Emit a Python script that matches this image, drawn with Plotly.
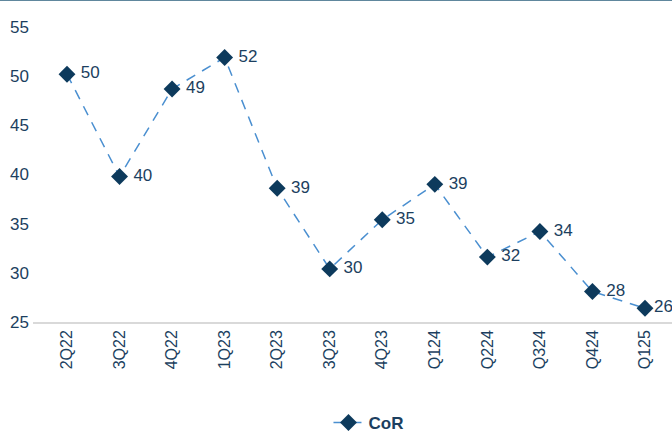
import plotly.graph_objects as go

quarters = ["2Q22", "3Q22", "4Q22", "1Q23", "2Q23", "3Q23", "4Q23",
            "Q124", "Q224", "Q324", "Q424", "Q125"]
cor = [50.2, 39.8, 48.7, 51.9, 38.6, 30.4, 35.4, 39.0, 31.6, 34.2, 28.1, 26.4]

navy = "#0d3a5c"
text_col = "#1c3f60"

labels = [f" {v:.0f}" for v in cor]
labels[-1] = f"{cor[-1]:.0f}"

fig = go.Figure()
fig.add_trace(go.Scatter(
    x=list(range(len(quarters))), y=cor, name="CoR",
    mode="lines+markers+text",
    line=dict(color="#4a8fd0", width=1.5, dash="10px,8px"),
    marker=dict(symbol="diamond", size=13, color=navy),
    text=labels,
    textposition="middle right",
    textfont=dict(family="Liberation Sans, Arial", size=17, color=text_col),
    cliponaxis=False,
))

fig.update_layout(
    width=672, height=432,
    margin=dict(l=33, r=0, t=27, b=110, autoexpand=False),
    paper_bgcolor="white", plot_bgcolor="white",
    font=dict(family="Liberation Sans, Arial", size=16, color=text_col),
    showlegend=True,
    legend=dict(orientation="h", x=0.525, xanchor="center",
                yref="container", y=0.021, yanchor="middle",
                font=dict(size=17, color=text_col, weight="bold")),
    xaxis=dict(
        tickmode="array", tickvals=list(range(len(quarters))), ticktext=quarters,
        range=[-0.647, 11.514], tickangle=-90, showgrid=False, automargin=False,
        showline=True, linecolor="#d9d9d9", linewidth=1.5,
        ticks="", tickfont=dict(size=16, color=text_col), zeroline=False,
    ),
    yaxis=dict(
        range=[25, 55], dtick=5, showgrid=False, zeroline=False, automargin=False,
        showline=False, ticks="", ticklabelstandoff=3,
        tickfont=dict(size=17, color=text_col),
    ),
    shapes=[dict(type="line", xref="paper", yref="paper",
                 x0=-0.06, x1=1.0, y0=1.0925, y1=1.0925,
                 line=dict(color="#2b5f7c", width=2))],
)

fig.write_html("out.html")
